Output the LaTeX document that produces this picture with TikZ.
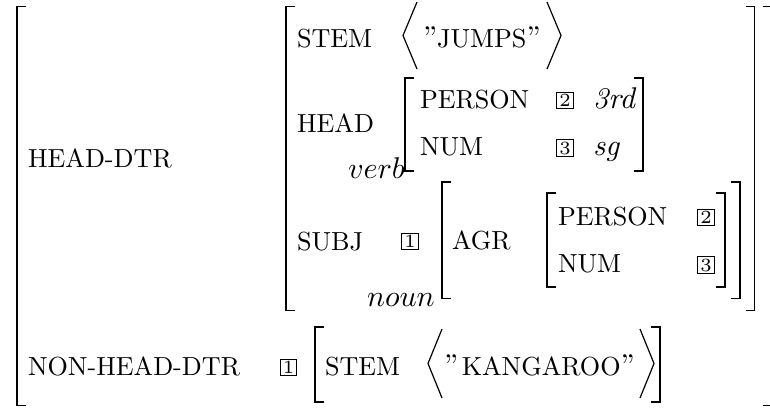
\documentclass[tikz,border=0pt]{standalone}
\newcommand\avmL[3]{\draw[brk] (#1+9,#2) -- (#1,#2) -- (#1,#3) -- (#1+9,#3);}
\newcommand\avmR[3]{\draw[brk] (#1-9,#2) -- (#1,#2) -- (#1,#3) -- (#1-9,#3);}
\newlength\featw
\newcommand\feat[1]{\scalebox{\featscale}{#1}}
\begin{document}
\settowidth\featw{NON-HEAD-DTR}%
\pgfmathsetmacro\featscale{70.67/\featw}%
\begin{tikzpicture}[x=0.3333pt,y=-0.3333pt,
  brk/.style={line width=0.5pt, line cap=butt, line join=miter},
  ang/.style={line width=0.4pt, line join=miter},
  lbl/.style={anchor=base west, inner sep=0pt, outer sep=0pt},
  tag/.style={draw, line width=0.35pt, inner sep=0pt, minimum size=5.5pt, font=\fontsize{6.2}{7}\selectfont}]
\useasboundingbox (0,0) rectangle (770,407);
% brackets
\avmL{17}{6.5}{405.5}
\avmR{771.5}{6.5}{405.5}
\avmL{286}{6.5}{310.5}
\avmR{754.5}{6.5}{310.5}
\avmL{405}{78}{171}
\avmR{643}{78}{171}
\avmL{442}{182}{298.5}
\avmR{740}{182}{298.5}
\avmL{547}{193}{287}
\avmR{725}{193}{287}
\avmL{315}{327}{402}
\avmR{660}{327}{402}
% angle brackets
\draw[ang] (417,2) -- (403,35.5) -- (417,69);
\draw[ang] (547,2) -- (561,35.5) -- (547,69);
\draw[ang] (442,329) -- (428,363.5) -- (442,398);
\draw[ang] (640,329) -- (654,363.5) -- (640,398);
% texts
\node[lbl] (hd) at (28,167) {\feat{HEAD-DTR}};
\node[lbl] (nhd) at (28,375) {\feat{NON-HEAD-DTR}};
\node[lbl] (stem1) at (297,47) {\feat{STEM}};
\node[lbl] (jumps) at (423,47) {''\feat{JUMPS}''};
\node[lbl] (head) at (297,132) {\feat{HEAD}};
\node[lbl] (verb) at (348,178) {$verb$};
\node[lbl] (per1) at (420,108.5) {\feat{PERSON}};
\node[lbl] (num1) at (420,155.5) {\feat{NUM}};
\node[tag] (t2a) at (565,100.5) {2};
\node[tag] (t3a) at (565,148) {3};
\node[lbl] (rd) at (593,108.5) {\textit{3rd}};
\node[lbl] (sg) at (593,155.5) {\textit{sg}};
\node[lbl] (subj) at (297,250) {\feat{SUBJ}};
\node[tag] (t1a) at (410,241.5) {1};
\node[lbl] (noun) at (367,306) {$noun$};
\node[lbl] (agr) at (452,249.5) {\feat{AGR}};
\node[lbl] (per2) at (558,225.5) {\feat{PERSON}};
\node[lbl] (num2) at (558,272.5) {\feat{NUM}};
\node[tag] (t2b) at (706,217.5) {2};
\node[tag] (t3b) at (706,265) {3};
\node[tag] (t1b) at (288.5,367.5) {1};
\node[lbl] (stem2) at (325,375) {\feat{STEM}};
\node[lbl] (kang) at (444,375) {''\kern1.2pt\feat{KANGAROO}''};
\end{tikzpicture}
\end{document}
